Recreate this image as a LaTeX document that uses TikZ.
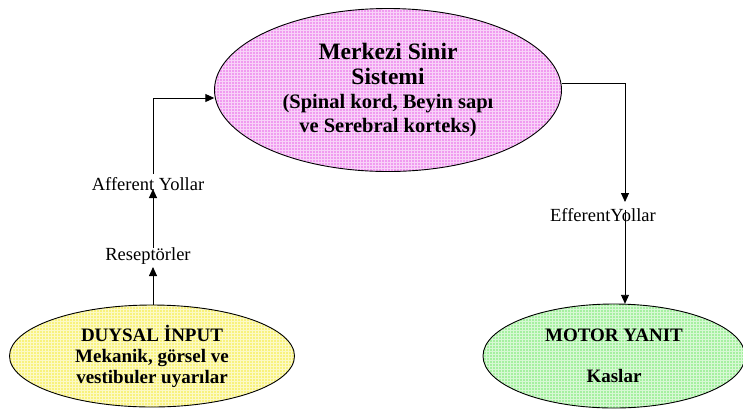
\documentclass[tikz,border=0pt]{standalone}
\usepackage{fontspec}
\setmainfont{Liberation Serif}
\usetikzlibrary{shapes.geometric,arrows.meta,patterns}
\definecolor{pinkc}{RGB}{240,155,240}
\definecolor{yelc}{RGB}{248,242,125}
\definecolor{grnc}{RGB}{165,240,160}
\tikzset{
  blob/.style={ellipse, fill=#1, inner sep=0pt, align=center,
    postaction={pattern=grid, pattern color=white!55!#1},
    postaction={draw=black, line width=0.9pt}},
  lbl/.style={inner sep=1pt, font=\fontsize{18.5}{20}\selectfont},
  conn/.style={draw=black, line width=0.9pt},
  arr/.style={conn, -{Triangle[length=9pt,width=8pt]}}
}
\begin{document}
\begin{tikzpicture}[x=1pt,y=-1pt]
\useasboundingbox (0,0) rectangle (743,408);
\node[blob=pinkc, minimum width=347pt, minimum height=163pt,
      font=\bfseries\fontsize{20.5}{24}\selectfont] (mss) at (388,90)
  {{\fontsize{23.5}{24}\selectfont Merkezi Sinir}\\[1pt]
   {\fontsize{23.5}{24}\selectfont Sistemi}\\
   (Spinal kord, Beyin sapı\\
   ve Serebral korteks)};
\node[blob=yelc, minimum width=285pt, minimum height=102pt,
      font=\bfseries\fontsize{19}{21}\selectfont] (duy) at (152,356)
  {DUYSAL İNPUT\\ Mekanik, görsel ve\\ vestibuler uyarılar};
\node[blob=grnc, minimum width=262pt, minimum height=104pt,
      font=\bfseries\fontsize{19}{21}\selectfont] (mot) at (614,356)
  {MOTOR YANIT\\[20pt] Kaslar};
\node[lbl] (res) at (148,256) {Reseptörler};
\node[lbl] (aff) at (148,184) {Afferent Yollar};
\node[lbl] (eff) at (603,215) {EfferentYollar};
\coordinate (resTip) at (153,267);
\coordinate (affTip) at (153,189);
\coordinate (affTop) at (153,174);
\coordinate (effTip) at (625,202);
\coordinate (effTop) at (625,210);
\draw[arr] (duy.north -| resTip) -- (resTip);
\draw[arr] (153,248) -- (affTip);
\draw[arr] (affTop) |- ([yshift=-8pt]mss.west);
\draw[arr] ([yshift=7pt]mss.east) -| (effTip);
\draw[arr] (effTop) -- (mot.north -| effTop);
\end{tikzpicture}
\end{document}
